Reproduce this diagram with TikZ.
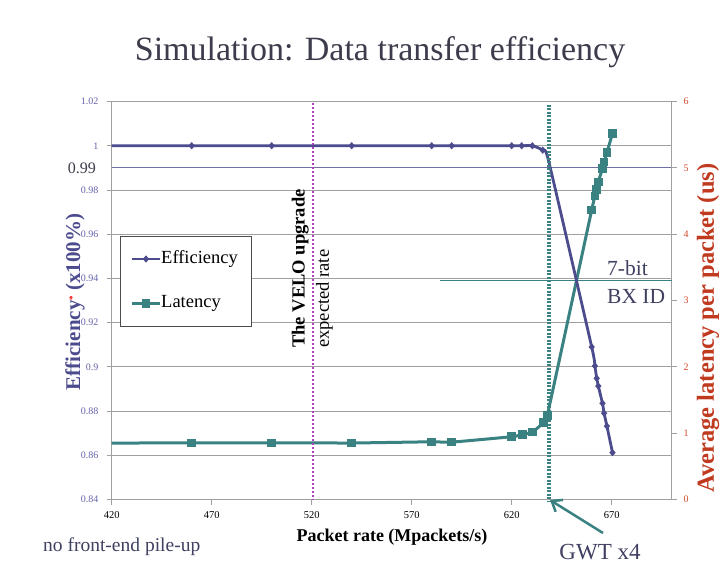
\documentclass[tikz,border=0pt]{standalone}
\usepackage{fontspec}
\setmainfont{Liberation Serif}
\usetikzlibrary{arrows.meta,shapes.geometric}
\definecolor{effc}{HTML}{4B4B8E}
\definecolor{latc}{HTML}{3A8282}
\definecolor{gridc}{HTML}{A0A0A0}
\definecolor{ticklc}{HTML}{6464AA}
\definecolor{tickrc}{HTML}{D44A2A}
\definecolor{redlab}{HTML}{C03A20}
\definecolor{velo}{HTML}{B040C0}
\definecolor{titlec}{HTML}{3C3C4C}
\definecolor{notec}{HTML}{404062}
\tikzset{
  declare function={px(\x)=111.7+2*(\x-420); pe(\e)=499.5-2211*(\e-0.84); pl(\l)=499.5-66.33*\l;},
  grid/.style={draw=gridc, line width=0.9pt},
  effline/.style={draw=effc, line width=2.8pt, line join=round},
  latline/.style={draw=latc, line width=3pt, line join=round},
  effmark/.style={diamond, fill=effc, inner sep=0pt, minimum width=6.5pt, minimum height=7.5pt},
  latmark/.style={rectangle, fill=latc, inner sep=0pt, minimum size=8.5pt},
  lefttick/.style={anchor=east, text=ticklc, font=\fontsize{10}{12}\selectfont},
  righttick/.style={anchor=center, text=tickrc, font=\fontsize{10}{12}\selectfont},
  bottick/.style={anchor=center, text=black, font=\fontsize{10.5}{12}\selectfont},
  note/.style={text=notec, font=\fontsize{21.5}{23}\selectfont, inner sep=0pt},
}
\begin{document}
\begin{tikzpicture}[x=1pt,y=-1pt]
\useasboundingbox (0,0) rectangle (725,567);
\fill[white] (0,0) rectangle (725,567);

% title
\node[text=titlec, font=\fontsize{34}{36}\selectfont, inner sep=0pt] (title) at (380,52) {Simulation: Data transfer efficiency};

% horizontal grid lines and left axis ticks
\foreach \v [count=\i] in {0.84,0.86,0.88,0.90,0.92,0.94,0.96,0.98,1.00,1.02} {
  \draw[grid] ({px(420)},{pe(\v)}) -- ({px(700)},{pe(\v)});
  \draw[grid] ({px(420)-5},{pe(\v)}) -- ({px(420)},{pe(\v)});
}
\foreach \v/\t [count=\i] in {0.84/0.84,0.86/0.86,0.88/0.88,0.9/0.9,0.92/0.92,0.94/0.94,0.96/0.96,0.98/0.98,1/1,1.02/1.02}
  \node[lefttick] (lt\i) at (102,{pe(\v)}) {\t};
% 0.99 reference line
\draw[draw=effc!80, line width=1pt] ({px(420)},{pe(0.99)}) -- ({px(700)},{pe(0.99)});
\node[anchor=east, text=titlec, font=\fontsize{16}{17}\selectfont, inner sep=0pt] (l099) at (96,{pe(0.99)}) {0.99};

% axes
\draw[grid] ({px(420)},{pe(1.02)}) -- ({px(420)},{pe(0.84)});
\draw[grid] ({px(700)},{pe(1.02)}) -- ({px(700)},{pe(0.84)});
\foreach \l in {0,...,6} {
  \draw[grid] ({px(700)},{pl(\l)}) -- ({px(700)+5},{pl(\l)});
  \node[righttick] (rt\l) at (686,{pl(\l)}) {\l};
}
\foreach \xv in {420,470,520,570,620,670} {
  \draw[grid] ({px(\xv)},{pe(0.84)}) -- ({px(\xv)},{pe(0.84)+5});
  \node[bottick] (bt\xv) at ({px(\xv)},515) {\xv};
}

% 7-bit BX ID level
\draw[draw=latc, line width=1pt] (440,{pl(3.3)}) -- ({px(700)},{pl(3.3)});
\node[note, anchor=west] (bit7) at (607,268) {7-bit};
\node[note, anchor=west] (bxid) at (607,296) {BX ID};

% latency series
\draw[latline] plot[smooth, tension=0.3] coordinates {
  ({px(420)},{pl(0.85)}) ({px(460)},{pl(0.855)}) ({px(500)},{pl(0.855)}) ({px(540)},{pl(0.852)})
  ({px(580)},{pl(0.87)}) ({px(590)},{pl(0.865)}) ({px(620)},{pl(0.947)}) ({px(625.3)},{pl(0.977)})
  ({px(630.5)},{pl(1.02)}) ({px(635.8)},{pl(1.158)}) ({px(637.8)},{pl(1.27)})
  ({px(660)},{pl(4.365)}) ({px(661.6)},{pl(4.575)}) ({px(662.5)},{pl(4.676)}) ({px(663.3)},{pl(4.79)})
  ({px(665.4)},{pl(4.99)}) ({px(666.2)},{pl(5.09)}) ({px(667.6)},{pl(5.23)}) ({px(670.4)},{pl(5.52)})};
\foreach \xv/\lv [count=\i] in {460/0.855,500/0.855,540/0.852,580/0.87,590/0.865,620/0.947,625.3/0.977,630.5/1.02,635.8/1.158,637.8/1.27,660/4.365,661.6/4.575,662.5/4.676,663.3/4.79,665.4/4.99,666.2/5.09,667.6/5.23,670.4/5.52}
  \node[latmark] (lm\i) at ({px(\xv)},{pl(\lv)}) {};

% efficiency series
\draw[effline] plot[smooth, tension=0.3] coordinates {
  ({px(420)},{pe(1)}) ({px(460)},{pe(1)}) ({px(500)},{pe(1)}) ({px(540)},{pe(1)}) ({px(580)},{pe(1)})
  ({px(590)},{pe(1)}) ({px(620)},{pe(1)}) ({px(625)},{pe(1)}) ({px(630.3)},{pe(1)})
  ({px(635.5)},{pe(0.998)}) ({px(638.5)},{pe(0.993)})
  ({px(660)},{pe(0.909)}) ({px(661.6)},{pe(0.9004)}) ({px(662.5)},{pe(0.8948)}) ({px(663.3)},{pe(0.8913)})
  ({px(665.4)},{pe(0.8835)}) ({px(666.2)},{pe(0.879)}) ({px(667.6)},{pe(0.8732)}) ({px(670.4)},{pe(0.8612)})};
\foreach \xv/\ev [count=\i] in {460/1,500/1,540/1,580/1,590/1,620/1,625/1,630.3/1,635.5/0.998,660/0.909,661.6/0.9004,662.5/0.8948,663.3/0.8913,665.4/0.8835,666.2/0.879,667.6/0.8732,670.4/0.8612}
  \node[effmark] (em\i) at ({px(\xv)},{pe(\ev)}) {};

% VELO upgrade expected rate
\node[rotate=90, anchor=south west, inner sep=0pt, font=\fontsize{18.5}{20}\selectfont\bfseries] (velo1) at (309,348) {The VELO upgrade};
\node[rotate=90, anchor=south west, inner sep=0pt, font=\fontsize{18.5}{20}\selectfont] (velo2) at (333,348) {expected rate};
\draw[draw=velo, line width=2pt, dotted] (312.5,103) -- (312.5,500);

% GWT x4 limit
\draw[draw=latc, line width=3.5pt, dash pattern=on 2pt off 1.5pt] (549,105) coordinate (gtop) -- (549,502) coordinate (gbot);
\node[note, font=\fontsize{23}{25}\selectfont, anchor=center] (gwt) at (600,552) {GWT x4};
\coordinate (gtail) at (603,533);
\draw[draw=latc, line width=2.5pt, -{Straight Barb[length=9pt,width=14pt]}] (gtail) -- ([xshift=1pt,yshift=2pt]gbot);

% legend
\draw[draw=black!70, fill=white, line width=0.8pt] (120.7,236) rectangle (251.7,326);
\draw[effline] (131.7,259) -- (160,259);
\node[effmark] (lgem) at (146,259) {};
\node[anchor=west, inner sep=0pt, font=\fontsize{18.5}{20}\selectfont] (lgeff) at (161,259) {Efficiency};
\draw[latline] (131.7,303.3) -- (160,303.3);
\node[latmark] (lglm) at (146,303.3) {};
\node[anchor=west, inner sep=0pt, font=\fontsize{18.5}{20}\selectfont] (lglat) at (161,303.3) {Latency};

% axis titles
\node[rotate=90, inner sep=0pt, text=effc, font=\fontsize{21}{23}\selectfont\bfseries] (ylab) at (75,302) {Efficiency\textcolor{red}{\raisebox{0.5ex}{\small*}} (x100\%)};
\node[rotate=90, inner sep=0pt, text=redlab, font=\fontsize{24.5}{26}\selectfont\bfseries] (y2lab) at (708,328) {Average latency per packet (us)};
\node[inner sep=0pt, text=black, font=\fontsize{18}{20}\selectfont\bfseries] (xlab) at (392,537) {Packet rate (Mpackets/s)};

% note
\node[note, font=\fontsize{19.5}{21}\selectfont, anchor=west] (pile) at (43,547) {no front-end pile-up};
\end{tikzpicture}
\end{document}
